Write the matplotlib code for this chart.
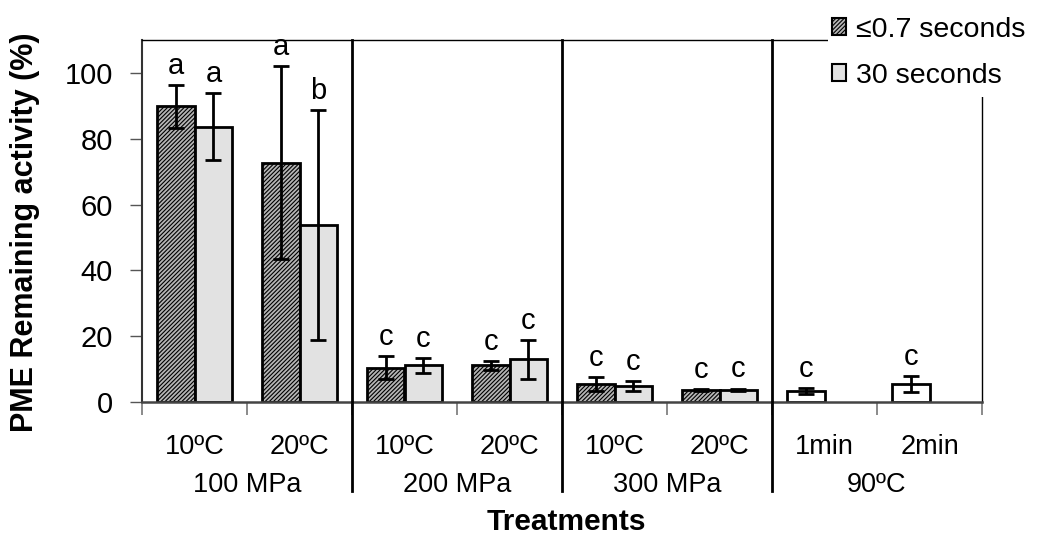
import matplotlib
matplotlib.use("Agg")
import matplotlib.pyplot as plt
from matplotlib.patches import Patch, Rectangle
import numpy as np

plt.rcParams['font.family'] = ['Liberation Sans', 'DejaVu Sans']
plt.rcParams['hatch.linewidth'] = 0.8

# data
groups = ['100 MPa', '200 MPa', '300 MPa', '90ºC']
cats = ['10ºC', '20ºC', '10ºC', '20ºC', '10ºC', '20ºC', '1min', '2min']
short_mean = [89.8, 72.7, 10.4, 11.1, 5.4, 3.7]
short_err = [6.5, 29.3, 3.5, 1.4, 2.1, 0.3]
short_lab = ['a', 'a', 'c', 'c', 'c', 'c']
long_mean = [83.7, 53.7, 11.1, 13.0, 4.8, 3.7]
long_err = [10.2, 34.9, 2.3, 5.9, 1.6, 0.4]
long_lab = ['a', 'b', 'c', 'c', 'c', 'c']
heat_mean = [3.3, 5.4]
heat_err = [1.0, 2.5]
heat_lab = ['c', 'c']

fig = plt.figure(figsize=(10.46, 5.39), dpi=100)
ax = fig.add_axes([142/1046, 1-402/539, 840/1046, 362/539])

w = 0.36
x = np.arange(6) + 0.5
ekw = dict(ecolor='black', elinewidth=2, capsize=5.5, capthick=2)
ax.bar(x - w/2, short_mean, w, yerr=short_err, facecolor='#b5b5b5', edgecolor='black',
       linewidth=2, hatch='////////', error_kw=ekw, zorder=2)
ax.bar(x + w/2, long_mean, w, yerr=long_err, facecolor='#e2e2e2', edgecolor='black',
       linewidth=2, error_kw=ekw, zorder=2)
xh = np.arange(6, 8) + 0.5
ax.bar(xh - w/2, heat_mean, w, yerr=heat_err, facecolor='white', edgecolor='black',
       linewidth=2, error_kw=ekw, zorder=2)

for xi, m, e, t in zip(x - w/2, short_mean, short_err, short_lab):
    ax.text(xi, m + e + 1.6, t, ha='center', va='bottom', fontsize=21)
for xi, m, e, t in zip(x + w/2, long_mean, long_err, long_lab):
    ax.text(xi, m + e + 1.6, t, ha='center', va='bottom', fontsize=21)
for xi, m, e, t in zip(xh - w/2, heat_mean, heat_err, heat_lab):
    ax.text(xi, m + e + 1.6, t, ha='center', va='bottom', fontsize=21)

ax.set_xlim(0, 8)
ax.set_ylim(0, 110)
ax.set_yticks(range(0, 101, 20))
ax.tick_params(axis='y', labelsize=21, length=9, width=1, color='#555555',
               direction='out', pad=12)
ax.set_xticks(range(0, 9))
ax.set_xticklabels([])
ax.tick_params(axis='x', length=9, width=1.2, color='#777777', direction='out')

for s in ['top', 'right']:
    ax.spines[s].set_linewidth(1)
    ax.spines[s].set_color('black')
ax.spines['left'].set_linewidth(1.5)
ax.spines['left'].set_color('#333333')
ax.spines['bottom'].set_linewidth(1.8)
ax.spines['bottom'].set_color('#444444')

# group separators, run below the axis
for gx in [2, 4, 6]:
    ax.plot([gx, gx], [110, 0], color='black', lw=2, zorder=3, clip_on=False)
    ax.plot([gx, gx], [0, -27], color='black', lw=2, clip_on=False)

trans = ax.get_xaxis_transform()
for i, c in enumerate(cats):
    ax.text(i + 0.5, -0.124, c, transform=trans, ha='center', va='center', fontsize=19.5)
for i, g in enumerate(groups):
    ax.text(2*i + 1, -0.229, g, transform=trans, ha='center', va='center', fontsize=19.5)

fig.text(566/1046, 1-522/539, 'Treatments', ha='center', va='center',
         fontsize=21.5, fontweight='bold')
fig.text(25/1046, 1-232/539, 'PME Remaining activity (%)', ha='center', va='center',
         rotation=90, fontsize=22, fontweight='bold')

# white box behind legend, hides the frame corner
fig.add_artist(Rectangle((828/1046, 1-97/539), 1, 1, transform=fig.transFigure,
                         facecolor='white', edgecolor='none', zorder=3))
handles = [Patch(facecolor='#b5b5b5', edgecolor='black', hatch='////////', linewidth=1.5),
           Patch(facecolor='#e2e2e2', edgecolor='black', linewidth=1.5)]
fig.legend(handles, ['≤0.7 seconds', '30 seconds'], loc='upper left',
           bbox_to_anchor=(806/1046, 1+9/539), frameon=False, fontsize=20.5,
           handlelength=0.5, handleheight=0.5, handletextpad=0.35, labelspacing=0.7)

fig.savefig('out.png', dpi=100)
